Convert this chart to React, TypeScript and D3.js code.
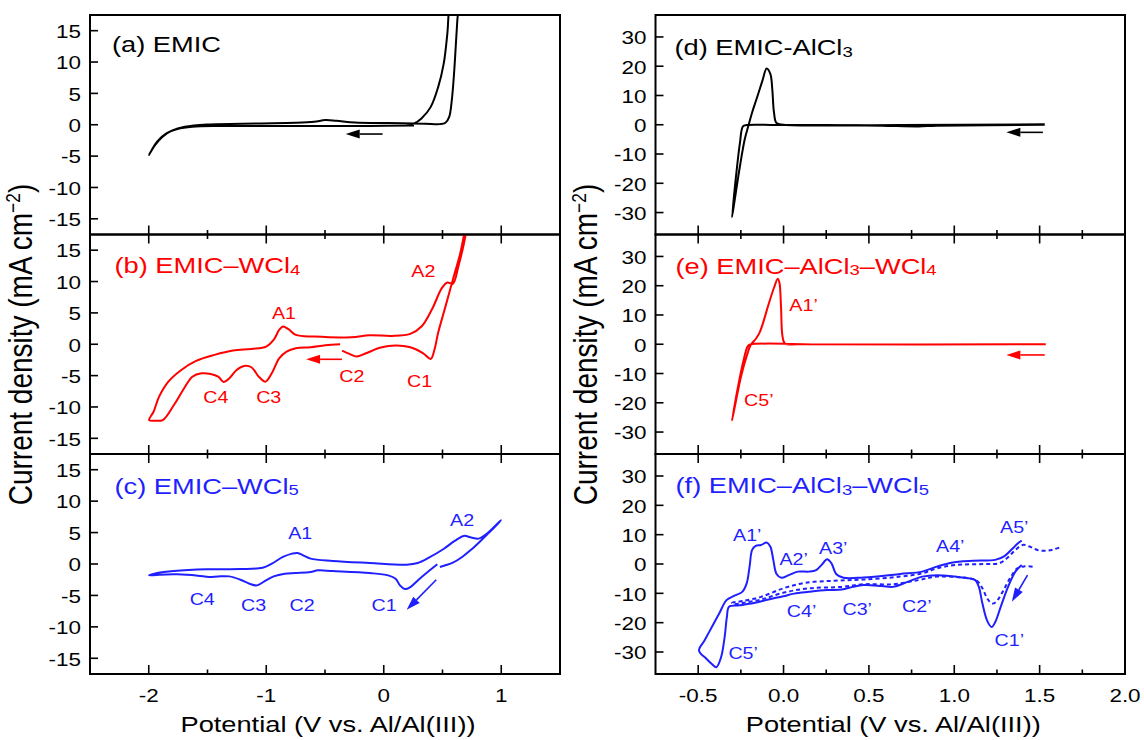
import React from 'react';
import * as d3 from 'd3';

type P = [number, number];

// ---------- data (potential V, current density mA cm-2) ----------
const A_CURVE: P[] = [
  [0.258, -0.1], [-0.12, -0.2], [-0.749, -0.2], [-1.378, -0.2], [-1.63, -0.32], [-1.756, -0.69], [-1.85, -1.37], [-1.929, -2.69], [-1.998, -4.8],
  [-1.945, -3.2], [-1.882, -1.9], [-1.803, -0.95], [-1.693, -0.32], [-1.504, 0.05], [-1.064, 0.21], [-0.749, 0.32], [-0.592, 0.48], [-0.497, 0.74],
  [-0.403, 0.63], [-0.245, 0.37], [0.038, 0.26], [0.352, 0.16], [0.478, 0.1], [0.525, 0.32], [0.557, 1.27], [0.579, 3.9], [0.598, 8.1], [0.614, 12.9],
  [0.626, 16.6], [0.636, 19.8], [0.6, 21], [0.566, 19.8], [0.541, 14.5], [0.51, 9.7], [0.463, 6.0], [0.4, 2.85], [0.321, 1.0], [0.258, 0.21], [0.195, 0],
];

const B_CURVE: P[] = [
  [-0.371, 0], [-0.497, -0.16], [-0.623, -0.48], [-0.748, -0.64], [-0.827, -1.17], [-0.89, -2.24], [-0.953, -4.63], [-1.006, -5.96], [-1.063, -5.17],
  [-1.126, -3.67], [-1.189, -3.46], [-1.252, -4.1], [-1.314, -5.43], [-1.362, -6.02], [-1.409, -5.17], [-1.472, -4.74], [-1.55, -4.63], [-1.629, -5.17],
  [-1.708, -7.3], [-1.786, -9.69], [-1.881, -12.09], [-1.943, -12.19], [-1.997, -12.09],
  [-1.959, -10.76], [-1.912, -8.36], [-1.833, -5.96], [-1.723, -4.1], [-1.597, -2.66], [-1.44, -1.7], [-1.283, -1.01], [-1.126, -0.75], [-1.0, -0.37],
  [-0.937, 0.69], [-0.89, 2.29], [-0.858, 2.82], [-0.811, 2.4], [-0.748, 1.49], [-0.591, 1.22], [-0.277, 1.12], [-0.119, 1.44], [0.069, 1.33],
  [0.226, 1.65], [0.321, 2.82], [0.415, 5.75], [0.494, 8.95], [0.541, 9.85], [0.588, 9.64], [0.635, 12.4], [0.704, 18.3], [0.71, 20],
  [0.692, 18.3], [0.651, 14.5], [0.588, 10.3], [0.525, 6.0], [0.462, 1.76], [0.431, -0.9], [0.399, -2.34], [0.336, -1.44], [0.226, -0.48],
  [0.1, -0.21], [-0.025, -0.53], [-0.151, -1.44], [-0.23, -1.97], [-0.292, -1.54], [-0.355, -1.01],
];

const C_CURVE: P[] = [
  [0.456, -0.05], [0.384, -1.12], [0.289, -2.61], [0.226, -3.67], [0.179, -3.99], [0.138, -3.4], [0.101, -2.34], [0.038, -1.81], [-0.119, -1.44],
  [-0.434, -1.12], [-0.56, -1.01], [-0.623, -1.28], [-0.748, -1.44], [-0.843, -1.54], [-0.937, -1.97], [-1.016, -2.77], [-1.079, -3.4], [-1.142, -3.14],
  [-1.22, -2.5], [-1.314, -1.97], [-1.409, -1.97], [-1.487, -2.07], [-1.582, -1.86], [-1.755, -1.65], [-1.912, -1.7], [-1.997, -1.81],
  [-1.928, -1.44], [-1.786, -1.12], [-1.503, -0.85], [-1.22, -0.8], [-1.031, -0.59], [-0.953, 0.05], [-0.858, 1.12], [-0.78, 1.65], [-0.733, 1.76],
  [-0.686, 1.38], [-0.623, 0.85], [-0.434, 0.48], [-0.119, 0.16], [0.195, -0.1], [0.289, 0.16], [0.384, 1.01], [0.509, 2.39], [0.604, 3.67],
  [0.682, 4.47], [0.745, 4.2], [0.808, 4.04], [0.871, 4.73], [0.934, 5.8], [0.997, 6.97],
  [0.95, 6.0], [0.887, 4.84], [0.824, 3.67], [0.745, 2.29], [0.667, 1.12], [0.588, 0.21], [0.525, -0.21], [0.478, -0.48],
];

const D_CURVE: P[] = [
  [1.53, 0], [0.898, -0.34], [0.79, -0.57], [0.576, -0.34], [0.255, -0.1], [-0.045, -0.1], [-0.216, -0.1], [-0.238, -0.57], [-0.255, -6.0],
  [-0.276, -16.3], [-0.302, -31.6],
  [-0.285, -25.3], [-0.255, -14.0], [-0.227, -4.9], [-0.206, -0.34], [-0.184, 4.2], [-0.152, 9.9], [-0.124, 15.0], [-0.099, 19.2], [-0.077, 17.3],
  [-0.066, 12.2], [-0.056, 4.2], [-0.041, 0.57], [0, 0], [0.683, -0.1], [1.53, 0.1],
];

const E_CURVE: P[] = [
  [1.536, 0], [0.255, -0.1], [-0.195, -0.1], [-0.21, -0.7], [-0.238, -6.4], [-0.27, -15.5], [-0.302, -26.1],
  [-0.281, -20.1], [-0.249, -11.0], [-0.216, -4.1], [-0.191, -0.1], [-0.163, 1.8], [-0.141, 3.9], [-0.12, 7.3], [-0.088, 13.6], [-0.056, 19.3],
  [-0.034, 22.4], [-0.024, 21.0], [-0.015, 13.0], [-0.006, 2.7], [0.009, 0.2], [0.084, 0], [1.536, 0],
];

const F_SOLID: P[] = [
  [1.395, -0.34], [1.358, -2.6], [1.315, -7.8], [1.272, -14.6], [1.24, -19.8], [1.219, -21.5], [1.193, -19.4], [1.165, -13.5], [1.144, -7.8],
  [1.123, -5.5], [1.09, -4.9], [1.005, -4.3], [0.898, -3.8], [0.812, -4.3], [0.726, -6.1], [0.641, -7.8], [0.576, -7.5], [0.469, -7.2],
  [0.405, -7.8], [0.341, -8.7], [0.255, -8.9], [0.148, -9.5], [0.062, -10.1], [-0.002, -11.0], [-0.088, -12.1], [-0.174, -13.3], [-0.259, -14.1],
  [-0.319, -14.6], [-0.332, -18.1], [-0.345, -24.9], [-0.366, -31.8], [-0.394, -35.2], [-0.42, -34.1], [-0.452, -32.3], [-0.495, -29.5],
  [-0.463, -26.1], [-0.42, -21.5], [-0.377, -16.9], [-0.334, -12.3], [-0.291, -10.9], [-0.242, -9.5], [-0.216, -6.6], [-0.199, -0.9], [-0.184, 4.8],
  [-0.163, 6.2], [-0.131, 6.5], [-0.099, 7.3], [-0.077, 5.9], [-0.06, 1.4], [-0.041, -3.4], [-0.013, -4.7], [0.03, -3.8], [0.084, -2.6],
  [0.148, -2.6], [0.191, -2.1], [0.223, -0.3], [0.255, 1.6], [0.281, 0.2], [0.308, -3.4], [0.351, -4.7], [0.469, -4.6], [0.683, -3.4],
  [0.812, -2.6], [0.898, -0.9], [0.983, 0.46], [1.112, 1.1], [1.24, 1.4], [1.294, 2.7], [1.337, 5.0], [1.373, 7.1], [1.395, 8.0],
];

const F_DOTTED: P[] = [
  [1.459, -0.9], [1.412, -0.8], [1.369, -1.5], [1.326, -4.9], [1.283, -9.5], [1.245, -12.9], [1.223, -13.5], [1.197, -12.1], [1.165, -8.3],
  [1.133, -5.7], [1.09, -4.9], [0.898, -4.3], [0.79, -5.5], [0.641, -6.9], [0.469, -6.9], [0.341, -7.8], [0.148, -8.3], [-0.002, -9.8],
  [-0.131, -12.1], [-0.238, -13.3], [-0.291, -13.7],
  [-0.302, -13.3], [-0.238, -12.6], [-0.131, -11.2], [-0.002, -8.3], [0.126, -6.4], [0.298, -5.7], [0.469, -5.3], [0.683, -4.3], [0.812, -3.2],
  [0.898, -1.5], [1.005, -0.34], [1.176, 0], [1.262, 0.23], [1.315, 2.3], [1.358, 4.8], [1.401, 6.5], [1.444, 5.9], [1.487, 4.8], [1.54, 4.5],
  [1.583, 5.0], [1.615, 5.6],
];

// peak labels [text, V, I]
const B_LABELS: [string, number, number][] = [
  ['A2', 0.337, 10.8], ['A1', -0.849, 4.0], ['C2', -0.271, -5.96], ['C1', 0.305, -6.76], ['C4', -1.429, -9.42], ['C3', -0.979, -9.42],
];
const C_LABELS: [string, number, number][] = [
  ['A1', -0.711, 3.9], ['A2', 0.667, 6.0], ['C4', -1.545, -6.6], ['C3', -1.108, -7.55], ['C2', -0.695, -7.55], ['C1', 0.003, -7.55],
];
const E_LABELS: [string, number, number][] = [['A1’', 0.034, 11.3], ['C5’', -0.231, -21.0]];
const F_LABELS: [string, number, number][] = [
  ['A1’', -0.296, 8.0], ['A2’', -0.024, -0.34], ['A3’', 0.208, 3.43], ['A4’', 0.893, 4.23], ['A5’', 1.268, 10.5],
  ['C4’', 0.019, -18.1], ['C3’', 0.345, -17.5], ['C2’', 0.694, -16.3], ['C1’', 1.236, -27.8], ['C5’', -0.323, -32.3],
];

// arrows [V from, I from, V to (tip), I to]
const ARROW_A = [-0.01, -1.48, -0.324, -1.48];
const ARROW_B = [-0.356, -2.4, -0.661, -2.4];
const ARROW_C = [0.447, -2.5, 0.195, -7.29];
const ARROW_D = [1.519, -2.6, 1.305, -2.6];
const ARROW_E = [1.53, -3.66, 1.305, -3.66];
const ARROW_F = [1.429, -3.77, 1.337, -12.9];

const LEFT_MAJOR = [-2, -1, 0, 1];
const LEFT_MINOR = [-1.5, -0.5, 0.5];
const LEFT_XLABELS = ['-2', '-1', '0', '1'];
const LEFT_YTICKS = [15, 10, 5, 0, -5, -10, -15];
const RIGHT_MAJOR = [-0.5, 0, 0.5, 1, 1.5, 2];
const RIGHT_MINOR = [-0.25, 0.25, 0.75, 1.25, 1.75];
const RIGHT_XLABELS = ['-0.5', '0.0', '0.5', '1.0', '1.5', '2.0'];
const RIGHT_YTICKS = [30, 20, 10, 0, -10, -20, -30];

// ---------- layout ----------
const FONT = '"Liberation Sans", Arial, Helvetica, sans-serif';
const SX = 1.2;
const RED = '#ff0000';
const BLUE = '#1f1fff';
const ROWS = [15, 234.5, 454, 674];
const COLS = [
  { x0: 90, x1: 560, domain: [-2.5, 1.5], ymax: 17.5, major: LEFT_MAJOR, minor: LEFT_MINOR, xl: LEFT_XLABELS, yt: LEFT_YTICKS },
  { x0: 655.5, x1: 1125, domain: [-0.75, 2.0], ymax: 37.5, major: RIGHT_MAJOR, minor: RIGHT_MINOR, xl: RIGHT_XLABELS, yt: RIGHT_YTICKS },
];

function T(props: { x: number; y: number; size: number; anchor?: string; fill?: string; children: any }) {
  const { x, y, size, anchor = 'start', fill = '#000', children } = props;
  return (
    <text transform={`translate(${x},${y}) scale(${SX},1)`} fontSize={size} textAnchor={anchor} fill={fill} fontFamily={FONT}>
      {children}
    </text>
  );
}

function Sub({ children }: { children: any }) {
  return <tspan fontSize="0.68em" dy="0.12em">{children}</tspan>;
}
function Up({ children }: { children: any }) {
  return <tspan dy="-0.08em">{children}</tspan>;
}

type PanelDef = {
  col: number; row: number; color: string; curves: { data: P[]; dash?: string }[];
  title: any; tdx: number; tdy: number; labels: [string, number, number][]; anchor: string; arrow: number[];
};

const PANELS: PanelDef[] = [
  { col: 0, row: 0, color: '#000', curves: [{ data: A_CURVE }], title: <>(a) EMIC</>, tdx: 22, tdy: 37, labels: [], anchor: 'middle', arrow: ARROW_A },
  { col: 0, row: 1, color: RED, curves: [{ data: B_CURVE }], title: <>(b) EMIC–WCl<Sub>4</Sub></>, tdx: 24.5, tdy: 38.5, labels: B_LABELS, anchor: 'middle', arrow: ARROW_B },
  { col: 0, row: 2, color: BLUE, curves: [{ data: C_CURVE }], title: <>(c) EMIC–WCl<Sub>5</Sub></>, tdx: 24.5, tdy: 39.5, labels: C_LABELS, anchor: 'middle', arrow: ARROW_C },
  { col: 1, row: 0, color: '#000', curves: [{ data: D_CURVE }], title: <>(d) EMIC-AlCl<Sub>3</Sub></>, tdx: 19, tdy: 40, labels: [], anchor: 'start', arrow: ARROW_D },
  { col: 1, row: 1, color: RED, curves: [{ data: E_CURVE }], title: <>(e) EMIC–AlCl<Sub>3</Sub><Up>–WCl</Up><Sub>4</Sub></>, tdx: 20, tdy: 39, labels: E_LABELS, anchor: 'start', arrow: ARROW_E },
  { col: 1, row: 2, color: BLUE, curves: [{ data: F_SOLID }, { data: F_DOTTED, dash: '4 3' }], title: <>(f) EMIC–AlCl<Sub>3</Sub><Up>–WCl</Up><Sub>5</Sub></>, tdx: 20, tdy: 39, labels: F_LABELS, anchor: 'start', arrow: ARROW_F },
];

function Arrow({ x1, y1, x2, y2, color }: { x1: number; y1: number; x2: number; y2: number; color: string }) {
  const dx = x2 - x1, dy = y2 - y1;
  const len = Math.hypot(dx, dy);
  const ux = dx / len, uy = dy / len;
  const hl = 14, hw = 4.5;
  const bx = x2 - ux * hl, by = y2 - uy * hl;
  const pts = [[x2, y2], [bx - uy * hw, by + ux * hw], [bx + uy * hw, by - ux * hw]];
  return (
    <g>
      <line x1={x1} y1={y1} x2={bx} y2={by} stroke={color} strokeWidth={1.6} />
      <polygon points={pts.map((p) => p.join(',')).join(' ')} fill={color} />
    </g>
  );
}

function Panel({ p, idx }: { p: PanelDef; idx: number }) {
  const c = COLS[p.col];
  const top = ROWS[p.row], bottom = ROWS[p.row + 1];
  const xs = d3.scaleLinear().domain(c.domain).range([c.x0, c.x1]);
  const ys = d3.scaleLinear().domain([-c.ymax, c.ymax]).range([bottom, top]);
  const line = d3.line<P>().x((d) => xs(d[0])).y((d) => ys(d[1])).curve(d3.curveCatmullRom.alpha(0.5));
  const clipId = `clip${idx}`;
  const majLen = 9, minLen = 4.5;
  const ticks: any[] = [];
  c.major.forEach((v, i) => {
    ticks.push(<line key={`bM${i}`} x1={xs(v)} x2={xs(v)} y1={bottom} y2={bottom - majLen} stroke="#000" strokeWidth={1.6} />);
    if (p.row > 0) ticks.push(<line key={`tM${i}`} x1={xs(v)} x2={xs(v)} y1={top} y2={top + majLen} stroke="#000" strokeWidth={1.6} />);
  });
  c.minor.forEach((v, i) => {
    ticks.push(<line key={`bm${i}`} x1={xs(v)} x2={xs(v)} y1={bottom} y2={bottom - minLen} stroke="#000" strokeWidth={1.6} />);
    if (p.row > 0) ticks.push(<line key={`tm${i}`} x1={xs(v)} x2={xs(v)} y1={top} y2={top + minLen} stroke="#000" strokeWidth={1.6} />);
  });
  c.yt.forEach((v, i) => {
    ticks.push(<line key={`y${i}`} x1={c.x0} x2={c.x0 + 8} y1={ys(v)} y2={ys(v)} stroke="#000" strokeWidth={1.6} />);
  });
  const a = p.arrow;
  return (
    <g>
      <defs>
        <clipPath id={clipId}>
          <rect x={c.x0} y={top} width={c.x1 - c.x0} height={bottom - top} />
        </clipPath>
      </defs>
      <g clipPath={`url(#${clipId})`}>
        {p.curves.map((cv, i) => (
          <path key={i} d={line(cv.data) || ''} fill="none" stroke={p.color} strokeWidth={2} strokeDasharray={cv.dash} strokeLinejoin="round" />
        ))}
      </g>
      {ticks}
      <rect x={c.x0} y={top} width={c.x1 - c.x0} height={bottom - top} fill="none" stroke="#000" strokeWidth={2} />
      {c.yt.map((v, i) => (
        <T key={`yl${i}`} x={c.x0 - 9} y={ys(v) + 7.3} size={18.7} anchor="end">{String(v)}</T>
      ))}
      {p.row === 2 && c.major.map((v, i) => (
        <T key={`xl${i}`} x={xs(v)} y={bottom + 28} size={18.7} anchor="middle">{c.xl[i]}</T>
      ))}
      <T x={c.x0 + p.tdx} y={top + p.tdy} size={22.7} fill={p.color}>{p.title}</T>
      {p.labels.map((l, i) => (
        <T key={`pl${i}`} x={xs(l[1])} y={ys(l[2])} size={16.4} anchor={p.anchor} fill={p.color}>{l[0]}</T>
      ))}
      <Arrow x1={xs(a[0])} y1={ys(a[1])} x2={xs(a[2])} y2={ys(a[3])} color={p.color} />
    </g>
  );
}

export default function App() {
  return (
    <svg width={1144} height={740} style={{ position: 'absolute', left: 0, top: 0, background: '#fff' }} fontFamily={FONT}>
      <rect x={0} y={0} width={1144} height={740} fill="#fff" />
      {PANELS.map((p, i) => <Panel key={i} p={p} idx={i} />)}
      {COLS.map((c, i) => (
        <g key={`ax${i}`}>
          <T x={(c.x0 + c.x1) / 2 + 3} y={731.5} size={22.7} anchor="middle">Potential (V vs. Al/Al(III))</T>
          <text transform={`translate(${c.x0 - 58.3},344.5) rotate(-90) scale(1,${SX})`} fontSize={28} textAnchor="middle" fontFamily={FONT}>
            Current density (mA cm<tspan fontSize="0.62em" dy="-0.55em">−2</tspan><tspan dy="0.34em">)</tspan>
          </text>
        </g>
      ))}
    </svg>
  );
}
